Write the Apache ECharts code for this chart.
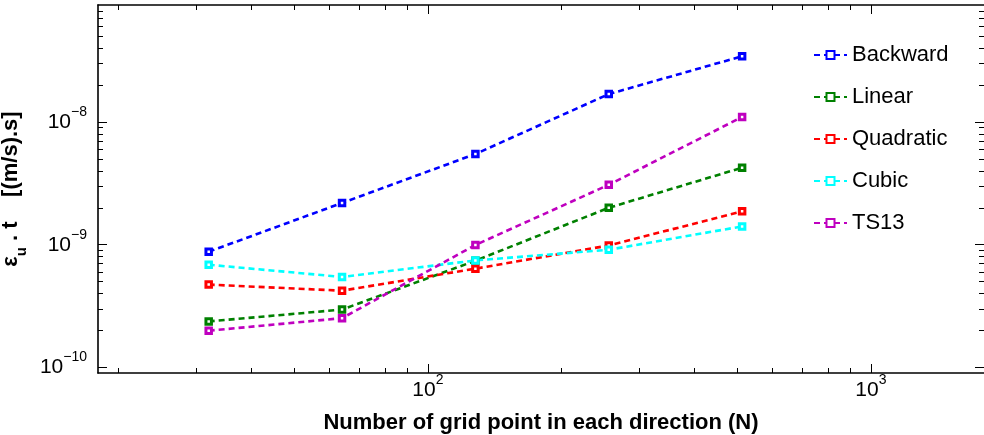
<!DOCTYPE html>
<html>
<head>
<meta charset="utf-8">
<script src="https://cdn.jsdelivr.net/npm/echarts@6/dist/echarts.min.js"></script>
<style>
  html, body { margin: 0; padding: 0; background: #fff; }
  #chart { width: 984px; height: 435px; }
</style>
</head>
<body>
<div id="chart"></div>
<script>
// Grid resolution (N) and error values for each scheme
const gridPoints = [32, 64, 128, 256, 512];
const backward  = [8.77e-10, 2.19e-9, 5.49e-9, 1.69e-8, 3.44e-8];
const linear    = [2.37e-10, 2.96e-10, 7.41e-10, 2.00e-9, 4.25e-9];
const quadratic = [4.73e-10, 4.22e-10, 6.38e-10, 9.86e-10, 1.87e-9];
const cubic     = [6.87e-10, 5.46e-10, 7.45e-10, 9.10e-10, 1.41e-9];
const ts13      = [1.99e-10, 2.52e-10, 9.95e-10, 3.08e-9, 1.10e-8];

const seriesNames  = ['Backward', 'Linear', 'Quadratic', 'Cubic', 'TS13'];
const seriesValues = [backward, linear, quadratic, cubic, ts13];
const seriesColors = ['#0000ff', '#008000', '#ff0000', '#00ffff', '#bf00bf'];

// Axis limits and tick positions (data units)
const xRange = [18, 1800];
const yRange = [9e-11, 9e-8];
const xMajorTicks = [100, 1000];
const xMinorTicks = [20, 30, 40, 50, 60, 70, 80, 90, 200, 300, 400, 500, 600, 700, 800, 900];
const yMajorTicks = [1e-10, 1e-9, 1e-8];
const yMinorTicks = [2e-10, 3e-10, 4e-10, 5e-10, 6e-10, 7e-10, 8e-10, 9e-10,
                     2e-9, 3e-9, 4e-9, 5e-9, 6e-9, 7e-9, 8e-9, 9e-9,
                     2e-8, 3e-8, 4e-8, 5e-8, 6e-8, 7e-8, 8e-8];

const FONT = 'Liberation Sans, Arial, Helvetica, sans-serif';
const lg = Math.log10;

// rich text for "10^k" tick labels
const powerRich = {
  b: { fontFamily: FONT, fontSize: 21, color: '#000', lineHeight: 22 },
  s: { fontFamily: FONT, fontSize: 14, color: '#000', lineHeight: 14, padding: [0, 0, 20, 0] }
};
function powerLabel(v) {
  const e = String(Math.round(v)).replace('-', '\u2212');
  return '{b|10}{s|' + e + '}';
}

// Box-style axes drawn in log10 space so that the ticks land at 2..9 x 10^n
function tickAxis(range, position, ticks, len, showLine, extra) {
  return Object.assign({
    type: 'value',
    position: position,
    min: lg(range[0]),
    max: lg(range[1]),
    axisLine: { show: showLine, onZero: false, lineStyle: { color: '#000', width: 1.6 } },
    axisTick: { show: true, inside: true, length: len, customValues: ticks.map(lg),
                lineStyle: { color: '#000', width: 1 } },
    axisLabel: { show: false },
    splitLine: { show: false }
  }, extra || {});
}

const xAxes = [
  { type: 'log', logBase: 10, min: xRange[0], max: xRange[1], show: false },
  tickAxis(xRange, 'bottom', xMajorTicks, 9, true, {
    axisLabel: {
      show: true, margin: 6, customValues: xMajorTicks.map(lg),
      formatter: powerLabel, rich: powerRich
    },
    name: 'Number of grid point in each direction (N)',
    nameLocation: 'middle',
    nameGap: 31,
    nameTextStyle: { fontFamily: FONT, fontSize: 22, fontWeight: 'bold', color: '#000' }
  }),
  tickAxis(xRange, 'bottom', xMinorTicks, 5, false),
  tickAxis(xRange, 'top', xMajorTicks, 9, true),
  tickAxis(xRange, 'top', xMinorTicks, 5, false)
];

const yAxes = [
  { type: 'log', logBase: 10, min: yRange[0], max: yRange[1], show: false },
  tickAxis(yRange, 'left', yMajorTicks, 9, true, {
    axisLabel: {
      show: true, margin: 11, customValues: yMajorTicks.map(lg),
      formatter: powerLabel, rich: powerRich
    },
    name: '{a|\u03b5}{u|u}{a| . t    [(m/s).s]}',
    nameLocation: 'middle',
    nameRotate: 90,
    nameGap: 57,
    nameTextStyle: {
      rich: {
        a: { fontFamily: FONT, fontSize: 22, fontWeight: 'bold', color: '#000', lineHeight: 24 },
        u: { fontFamily: FONT, fontSize: 15, fontWeight: 'bold', color: '#000', lineHeight: 15,
             padding: [22, 0, 0, 0] }
      }
    }
  }),
  tickAxis(yRange, 'left', yMinorTicks, 5, false),
  tickAxis(yRange, 'right', yMajorTicks, 9, false),
  tickAxis(yRange, 'right', yMinorTicks, 5, false)
];

const series = seriesNames.map((name, i) => ({
  name: name,
  type: 'line',
  xAxisIndex: 0,
  yAxisIndex: 0,
  data: gridPoints.map((n, j) => [n, seriesValues[i][j]]),
  symbol: 'rect',
  symbolSize: 5.5,
  showAllSymbol: true,
  lineStyle: { color: seriesColors[i], width: 2.6, type: [6, 4] },
  itemStyle: { color: '#ffffff', borderColor: seriesColors[i], borderWidth: 3 },
  emphasis: { disabled: true },
  z: 3
}));

const chart = echarts.init(document.getElementById('chart'), null, { renderer: 'canvas' });
chart.setOption({
  animation: false,
  backgroundColor: '#ffffff',
  grid: { left: 98, top: 5, width: 886, height: 368, containLabel: false, outerBoundsMode: 'none' },
  xAxis: xAxes,
  yAxis: yAxes,
  legend: {
    orient: 'vertical',
    left: 808,
    top: 39,
    itemWidth: 33,
    itemHeight: 10,
    itemGap: 20,
    selectedMode: false,
    data: seriesNames,
    textStyle: { fontFamily: FONT, fontSize: 22, color: '#000', lineHeight: 20 }
  },
  series: series
});
</script>
</body>
</html>
